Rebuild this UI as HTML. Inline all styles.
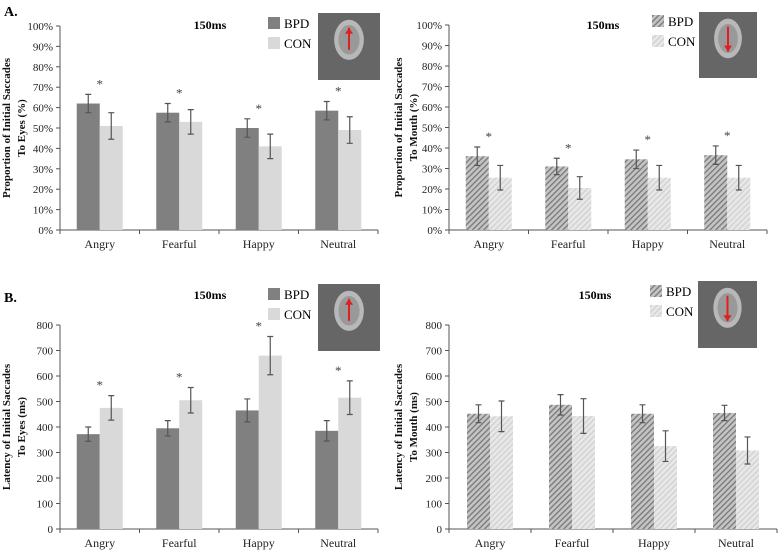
<!DOCTYPE html>
<html><head><meta charset="utf-8"><style>
body{margin:0;background:#fff}
svg{display:block;font-family:"Liberation Serif",serif}
</style></head><body>
<svg id="c" width="778" height="550" viewBox="0 0 778 550">
<defs>
<pattern id="hd" width="4" height="4" patternUnits="userSpaceOnUse" patternTransform="rotate(45)">
<rect width="4" height="4" fill="#c4c4c4"/><rect width="1.3" height="4" fill="#777"/></pattern>
<pattern id="hl" width="4" height="4" patternUnits="userSpaceOnUse" patternTransform="rotate(45)">
<rect width="4" height="4" fill="#e8e8e8"/><rect width="1.3" height="4" fill="#d0d0d0"/></pattern>
</defs>
</svg>
<script>
const categories=["Angry","Fearful","Happy","Neutral"];
const aEyesBPD=[62,57.5,50,58.5], aEyesBPDerr=[4.5,4.5,4.5,4.5];
const aEyesCON=[51,53,41,49], aEyesCONerr=[6.5,6,6,6.5];
const aEyesStar=[true,true,true,true];
const aMouthBPD=[36,31,34.5,36.5], aMouthBPDerr=[4.5,4,4.5,4.5];
const aMouthCON=[25.5,20.5,25.5,25.5], aMouthCONerr=[6,5.5,6,6];
const aMouthStar=[true,true,true,true];
const bEyesBPD=[372,395,465,385], bEyesBPDerr=[28,30,45,40];
const bEyesCON=[475,505,680,515], bEyesCONerr=[48,50,75,66];
const bEyesStar=[true,true,true,true];
const bMouthBPD=[452,487,452,455], bMouthBPDerr=[35,40,35,30];
const bMouthCON=[442,443,325,308], bMouthCONerr=[60,68,60,53];
const bMouthStar=[false,false,false,false];
const pctTicks=["0%","10%","20%","30%","40%","50%","60%","70%","80%","90%","100%"];
const msTicks=["0","100","200","300","400","500","600","700","800"];

const svg=document.getElementById('c');const NS="http://www.w3.org/2000/svg";
function mk(t,a,p){const e=document.createElementNS(NS,t);for(const k in a)e.setAttribute(k,a[k]);(p||svg).appendChild(e);return e;}
function panel(o){
  const g=mk('g',{});
  
  
  const y=v=>o.y0-(v/o.max)*(o.y0-o.y1);
  const cw=(o.x1-o.x0)/categories.length;
  const x=i=>o.x0+cw*(i+0.5);
  const ax=mk('path',{d:`M${o.x0} ${o.y1}V${o.y0}H${o.x1}`,stroke:'#555',fill:'none','stroke-width':1},g);
  
  
  o.ticks.forEach((t,i)=>{const v=o.max*i/(o.ticks.length-1);const yy=y(v);
    mk('line',{x1:o.x0-4,x2:o.x0,y1:yy,y2:yy,stroke:'#555'},g);
    const tx=mk('text',{x:o.x0-7,y:yy+4,'text-anchor':'end','font-size':11,fill:'#222'},g);tx.textContent=t;
    
    });
  for(let i=0;i<=categories.length;i++){const xx=o.x0+cw*i;mk('line',{x1:xx,x2:xx,y1:o.y0,y2:o.y0+4,stroke:'#555'},g);}
  categories.forEach((c,i)=>{
    const tx=mk('text',{x:x(i),y:o.y0+18,'text-anchor':'middle','font-size':12,fill:'#222'},g);tx.textContent=c;
    
    
    [[o.bpd,o.bpdE,o.f1,-1],[o.con,o.conE,o.f2,0]].forEach(([d,e,f,off])=>{
      const bx=x(i)+off*23;
      const r=mk('rect',{x:bx,y:y(d[i]),width:23,height:o.y0-y(d[i]),fill:f},g);
      
      
      const cx=bx+11.5,t=y(d[i]+e[i]),b=y(d[i]-e[i]);
      mk('path',{d:`M${cx} ${t}V${b}M${cx-3} ${t}H${cx+3}M${cx-3} ${b}H${cx+3}`,stroke:'#555','stroke-width':1.2,fill:'none'},g);
    });
    if(o.star[i]){const top=Math.max(o.bpd[i]+o.bpdE[i],o.con[i]+o.conE[i]);
      const s=mk('text',{x:x(i),y:y(top)-6,'text-anchor':'middle','font-size':13,fill:'#444'},g);s.textContent='*';
      
      }
  });
  const ty=(o.y0+o.y1)/2;
  const tt=mk('text',{transform:`translate(${o.tx},${ty}) rotate(-90)`,'text-anchor':'middle','font-size':11,'font-weight':'bold',fill:'#111'},g);
  
  
  mk('tspan',{x:0,dy:-4},tt).textContent=o.t1;
  mk('tspan',{x:0,dy:15},tt).textContent=o.t2;
  const h=mk('text',{x:o.hx,y:o.hy,'text-anchor':'middle','font-size':12,'font-weight':'bold'},g);h.textContent='150ms';
  
  
  [['BPD',o.f1,0],['CON',o.f2,20]].forEach(([l,f,dy])=>{
    const lr=mk('rect',{x:o.lx,y:o.ly+dy,width:12,height:12,fill:f},g);
    
    
    const lt=mk('text',{x:o.lx+16,y:o.ly+dy+11,'font-size':13},g);lt.textContent=l;
    
    });
  const fg=mk('g',{},g);
  
  
  const [fx,fy,fw,fh]=o.face;
  mk('rect',{x:fx,y:fy,width:fw,height:fh,fill:'#666'},fg);
  mk('ellipse',{cx:fx+fw/2,cy:fy+fh*0.4,rx:fw*0.24,ry:fh*0.3,fill:'#b8b8b8'},fg);
  mk('ellipse',{cx:fx+fw/2,cy:fy+fh*0.4,rx:fw*0.17,ry:fh*0.22,fill:'#999'},fg);
  const a=o.up?[fy+fh*0.55,fy+fh*0.22]:[fy+fh*0.22,fy+fh*0.6];
  mk('line',{x1:fx+fw/2,x2:fx+fw/2,y1:a[0],y2:a[1],stroke:'#e02020','stroke-width':2},fg);
  const d=o.up?-1:1;
  mk('path',{d:`M${fx+fw/2-4} ${a[1]-d*6}L${fx+fw/2} ${a[1]}L${fx+fw/2+4} ${a[1]-d*6}Z`,fill:'#e02020'},fg);
}
panel({name:'panel-a-eyes',x0:60,x1:378,y0:230,y1:26,max:100,ticks:pctTicks,bpd:aEyesBPD,bpdE:aEyesBPDerr,con:aEyesCON,conE:aEyesCONerr,star:aEyesStar,f1:'#808080',f2:'#d9d9d9',tx:14,t1:'Proportion of Initial Saccades',t2:'To Eyes (%)',hx:210,hy:29,lx:268,ly:17,face:[318,13,62,67],up:true});
panel({name:'panel-a-mouth',x0:449,x1:767,y0:230,y1:25,max:100,ticks:pctTicks,bpd:aMouthBPD,bpdE:aMouthBPDerr,con:aMouthCON,conE:aMouthCONerr,star:aMouthStar,f1:'url(#hd)',f2:'url(#hl)',tx:406,t1:'Proportion of Initial Saccades',t2:'To Mouth (%)',hx:603,hy:29,lx:652,ly:15,face:[699,12,58,66],up:false});
panel({name:'panel-b-eyes',x0:60,x1:378,y0:529,y1:325,max:800,ticks:msTicks,bpd:bEyesBPD,bpdE:bEyesBPDerr,con:bEyesCON,conE:bEyesCONerr,star:bEyesStar,f1:'#808080',f2:'#d9d9d9',tx:14,t1:'Latency of Initial Saccades',t2:'To Eyes (ms)',hx:210,hy:299,lx:268,ly:288,face:[318,284,62,67],up:true});
panel({name:'panel-b-mouth',x0:449,x1:777,y0:529,y1:325,max:800,ticks:msTicks,bpd:bMouthBPD,bpdE:bMouthBPDerr,con:bMouthCON,conE:bMouthCONerr,star:bMouthStar,f1:'url(#hd)',f2:'url(#hl)',tx:406,t1:'Latency of Initial Saccades',t2:'To Mouth (ms)',hx:595,hy:299,lx:650,ly:285,face:[698,281,59,67],up:false});
[['A.',4,16],['B.',4,302]].forEach(([t,x,y])=>{const e=mk('text',{x,y,'font-size':14,'font-weight':'bold'});e.textContent=t;

});
</script>
</body></html>
